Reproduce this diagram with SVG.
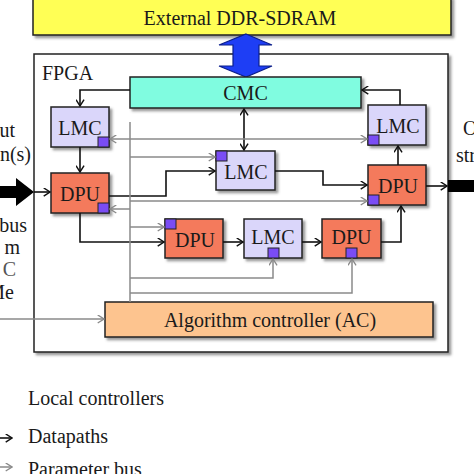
<svg xmlns="http://www.w3.org/2000/svg" width="474" height="474" viewBox="0 0 474 474">
<defs>
<style>
text{font-family:"Liberation Serif","Times New Roman",serif;font-size:20px;fill:#1a1a1a}
.c{text-anchor:middle}
.e{text-anchor:end}
.box{stroke:#222;stroke-width:1.5}
.lmc{fill:#DAD6FA}
.dpu{fill:#F47A5C}
.sq{fill:#7A4CF4;stroke:#222;stroke-width:1}
.bl{fill:none;stroke:#111;stroke-width:1.6}
.gr{fill:none;stroke:#8a8a8a;stroke-width:1.5}
</style>
<filter id="sh" x="-10%" y="-10%" width="130%" height="140%">
<feDropShadow dx="2.5" dy="2.5" stdDeviation="0.8" flood-color="#555" flood-opacity="0.6"/>
</filter>
<marker id="ab" viewBox="0 0 10 10" refX="9" refY="5" markerWidth="9" markerHeight="9" orient="auto-start-reverse" markerUnits="userSpaceOnUse">
<path d="M2,0.5 L9,5 L2,9.5" fill="none" stroke="#111" stroke-width="1.6"/>
</marker>
<marker id="ag" viewBox="0 0 10 10" refX="9" refY="5" markerWidth="9" markerHeight="9" orient="auto-start-reverse" markerUnits="userSpaceOnUse">
<path d="M2,0.5 L9,5 L2,9.5" fill="none" stroke="#8a8a8a" stroke-width="1.5"/>
</marker>
</defs>

<g id="ext-ddr">
<rect x="33" y="-3" width="418" height="38" fill="#FFFF55" class="box" filter="url(#sh)"/>
<text x="240" y="25" class="c">External DDR-SDRAM</text>
</g>

<g id="fpga">
<rect x="34" y="54" width="414" height="298" fill="#fff" class="box" filter="url(#sh)"/>
<text x="42" y="80">FPGA</text>
</g>

<g id="mem-bus">
<polygon points="246,34 272,45 259,45 259,66 272,66 246,77 219,66 233,66 233,45 219,45" fill="#1E3EF5" stroke="#0B1E8A" stroke-width="1.2"/>
</g>

<g id="cmc">
<rect x="130" y="77" width="231" height="31" fill="#80FCE0" class="box" filter="url(#sh)"/>
<text x="245.5" y="100" class="c">CMC</text>
</g>

<g id="lmc1">
<rect x="51" y="107" width="58" height="40" class="box lmc" filter="url(#sh)"/>
<text x="80" y="135" class="c">LMC</text>
<rect x="98" y="137" width="11" height="10" class="sq"/>
</g>

<g id="dpu1">
<rect x="51" y="173" width="58" height="40" class="box dpu" filter="url(#sh)"/>
<text x="80" y="201" class="c">DPU</text>
<rect x="98" y="203" width="11" height="10" class="sq"/>
</g>

<g id="lmc2">
<rect x="368" y="105" width="58" height="40" class="box lmc" filter="url(#sh)"/>
<text x="398" y="133" class="c">LMC</text>
<rect x="368" y="135" width="11" height="10" class="sq"/>
</g>

<g id="dpu2">
<rect x="368" y="165" width="58" height="40" class="box dpu" filter="url(#sh)"/>
<text x="398" y="193" class="c">DPU</text>
<rect x="368" y="195" width="11" height="10" class="sq"/>
</g>

<g id="lmc3">
<rect x="216" y="151" width="59" height="39" class="box lmc" filter="url(#sh)"/>
<text x="246" y="179" class="c">LMC</text>
<rect x="216" y="151" width="11" height="10" class="sq"/>
</g>

<g id="dpu3">
<rect x="165" y="219" width="58" height="39" class="box dpu" filter="url(#sh)"/>
<text x="195" y="247" class="c">DPU</text>
<rect x="165" y="219" width="11" height="10" class="sq"/>
</g>

<g id="lmc4">
<rect x="244" y="219" width="58" height="39" class="box lmc" filter="url(#sh)"/>
<text x="273" y="244" class="c">LMC</text>
<rect x="268" y="248" width="11" height="10" class="sq"/>
</g>

<g id="dpu4">
<rect x="322" y="219" width="59" height="39" class="box dpu" filter="url(#sh)"/>
<text x="351.5" y="244" class="c">DPU</text>
<rect x="346" y="248" width="11" height="10" class="sq"/>
</g>

<g id="ac">
<rect x="105" y="302" width="328" height="35" fill="#FDC48F" class="box" filter="url(#sh)"/>
<text x="270" y="327" class="c">Algorithm controller (AC)</text>
</g>

<g id="connectors">
<path class="bl" d="M130,90 H80 V106" marker-end="url(#ab)"/>
<path class="bl" d="M400,105 V90 H362" marker-end="url(#ab)"/>
<path class="bl" d="M244,109 V150" marker-start="url(#ab)" marker-end="url(#ab)"/>
<path class="bl" d="M80,147 V172" marker-end="url(#ab)"/>
<path class="bl" d="M34,192 H50" marker-end="url(#ab)"/>
<path class="bl" d="M109,196 H166 V171 H215" marker-end="url(#ab)"/>
<path class="bl" d="M275,171 H323 V185 H367" marker-end="url(#ab)"/>
<path class="bl" d="M398,165 V146" marker-end="url(#ab)"/>
<path class="bl" d="M426,186 H447" marker-end="url(#ab)"/>
<path class="bl" d="M80,213 V242 H164" marker-end="url(#ab)"/>
<path class="bl" d="M223,242 H243" marker-end="url(#ab)"/>
<path class="bl" d="M302,242 H321" marker-end="url(#ab)"/>
<path class="bl" d="M381,242 H401 V206" marker-end="url(#ab)"/>

<path class="gr" d="M130,122 V302"/>
<path class="gr" d="M110,139 H367" marker-start="url(#ag)" marker-end="url(#ag)"/>
<path class="gr" d="M130,157 H215" marker-end="url(#ag)"/>
<path class="gr" d="M130,201 H367" marker-end="url(#ag)"/>
<path class="gr" d="M130,209 H110" marker-end="url(#ag)"/>
<path class="gr" d="M130,227 H164" marker-end="url(#ag)"/>
<path class="gr" d="M130,278 H273 V259" marker-end="url(#ag)"/>
<path class="gr" d="M130,293 H352 V259" marker-end="url(#ag)"/>
<path class="gr" d="M0,319 H104" marker-end="url(#ag)"/>

<polygon points="0,186 16,186 16,178 34,192 16,206 16,198 0,198" fill="#000"/>
<rect x="448" y="180" width="26" height="12" fill="#000"/>
</g>

<g id="side-labels">
<text x="15" y="137" class="e">ut</text>
<text x="31" y="161" class="e">n(s)</text>
<text x="27" y="232" class="e">bus</text>
<text x="20" y="254" class="e">m</text>
<text x="16" y="276" class="e" style="fill:#555">C</text>
<text x="14" y="299" class="e">Me</text>
<text x="463" y="135">O</text>
<text x="456" y="162">str</text>
</g>

<g id="legend">
<text x="28" y="405">Local controllers</text>
<path class="bl" d="M0,438 H12" marker-end="url(#ab)"/>
<text x="28" y="443">Datapaths</text>
<path class="gr" d="M0,467 H12" marker-end="url(#ag)"/>
<text x="28" y="476">Parameter bus</text>
</g>
</svg>
